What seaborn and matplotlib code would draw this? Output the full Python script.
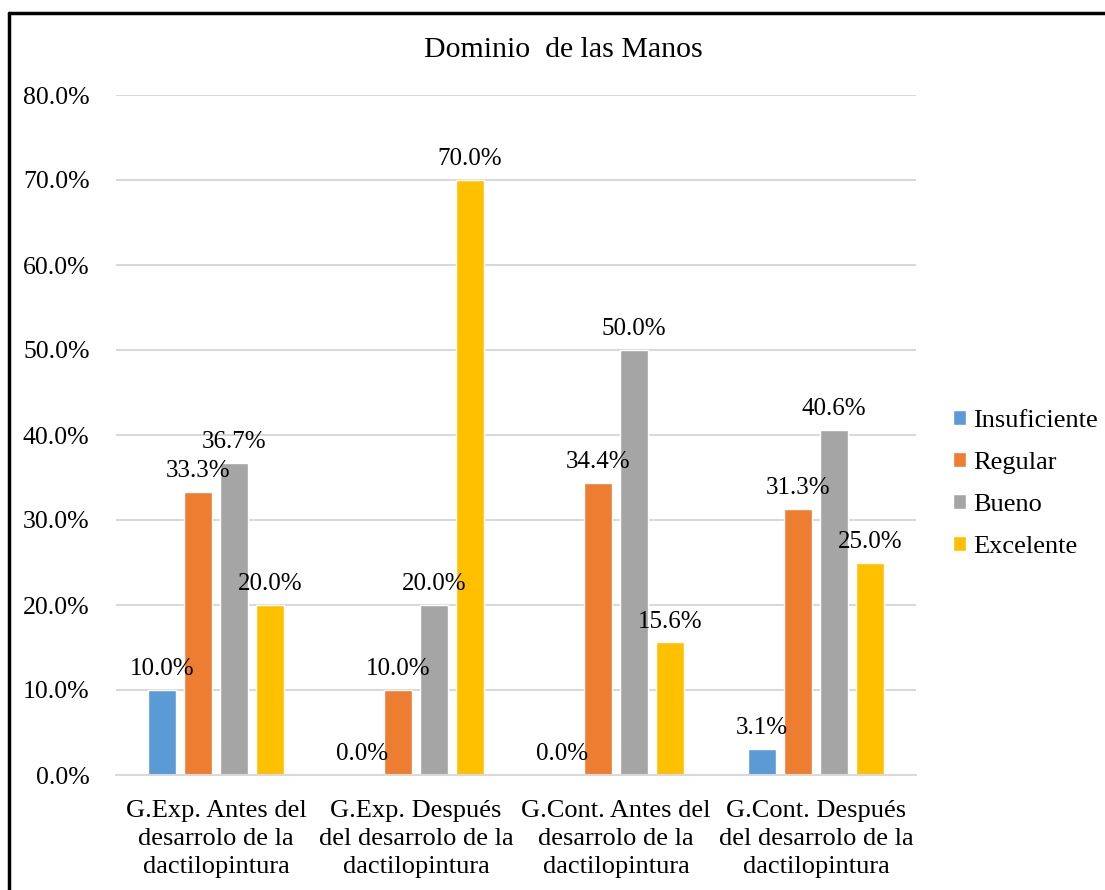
import pandas as pd
import numpy as np
import matplotlib
matplotlib.use("Agg")
import matplotlib.pyplot as plt
import seaborn as sns
from matplotlib.lines import Line2D

GROUPS = ["G.Exp. Antes del\ndesarrolo de la\ndactilopintura",
          "G.Exp. Después\ndel desarrolo de la\ndactilopintura",
          "G.Cont. Antes del\ndesarrolo de la\ndactilopintura",
          "G.Cont. Después\ndel desarrolo de la\ndactilopintura"]
LEVELS = ["Insuficiente", "Regular", "Bueno", "Excelente"]
insuficiente = [0.100, 0.000, 0.000, 0.031]
regular = [0.333, 0.100, 0.344, 0.313]
bueno = [0.367, 0.200, 0.500, 0.406]
excelente = [0.200, 0.700, 0.156, 0.250]
Y_TICKS = [0.0, 0.1, 0.2, 0.3, 0.4, 0.5, 0.6, 0.7, 0.8]
PALETTE = {"Insuficiente": "#5B9BD5", "Regular": "#ED7D31",
           "Bueno": "#A5A5A5", "Excelente": "#FFC000"}

df = pd.DataFrame({
    "grupo": GROUPS * 4,
    "nivel": np.repeat(LEVELS, 4),
    "valor": insuficiente + regular + bueno + excelente,
})

sns.set_style("white")
plt.rcParams["font.family"] = ["Liberation Serif", "DejaVu Serif"]
plt.rcParams["text.color"] = "black"
plt.rcParams["xtick.color"] = "black"
plt.rcParams["ytick.color"] = "black"

fig = plt.figure(figsize=(11.05, 8.9), dpi=100)
ax = fig.add_axes([116 / 1105, 1 - 775 / 890, 800 / 1105, 680 / 890])

sns.barplot(data=df, x="grupo", y="valor", hue="nivel", hue_order=LEVELS,
            order=GROUPS, palette=PALETTE, width=0.72, gap=0.22,
            saturation=1, ax=ax, legend=True)

for cont in ax.containers:
    ax.bar_label(cont, labels=[f"{v * 100:.1f}%" for v in cont.datavalues],
                 padding=7, fontsize=18, color="black")

ax.set_ylim(0, 0.8)
ax.set_xlim(-0.5, 3.5)
ax.set_yticks(Y_TICKS)
ax.set_yticklabels([f"{t * 100:.1f}%" for t in Y_TICKS])
ax.yaxis.grid(True, color="#D9D9D9", linewidth=1.5)
ax.set_axisbelow(True)
for s in ["top", "right", "left"]:
    ax.spines[s].set_visible(False)
ax.spines["bottom"].set_color("#D9D9D9")
ax.spines["bottom"].set_linewidth(1.5)
ax.tick_params(axis="y", length=0, pad=19, labelsize=18.5, labelcolor="black")
ax.tick_params(axis="x", length=0, pad=18, labelsize=19, labelcolor="black")
for lbl in ax.get_xticklabels():
    lbl.set_linespacing(1.36)
ax.set_xlabel("")
ax.set_ylabel("")

handles, labels = ax.get_legend_handles_labels()
ax.legend_.remove()
leg = fig.legend(handles, labels, loc="center left",
                 bbox_to_anchor=(953 / 1105, 1 - 484 / 890), frameon=False,
                 fontsize=19, handlelength=0.5, handleheight=0.5,
                 handletextpad=0.27, labelspacing=0.75, borderpad=0,
                 borderaxespad=0)
for t in leg.get_texts():
    t.set_color("black")

fig.text(563 / 1105, 1 - 50 / 890, "Dominio  de las Manos", fontsize=21.5,
         ha="center", va="center", color="black")

# marco negro del gráfico
fig.add_artist(Line2D([9 / 1105, 9 / 1105], [0, 1 - 13 / 890], color="black",
                      linewidth=2.5, transform=fig.transFigure))
fig.add_artist(Line2D([9 / 1105, 1], [1 - 13 / 890, 1 - 13 / 890], color="black",
                      linewidth=2.5, transform=fig.transFigure))

fig.savefig("out.png", dpi=100, facecolor="white")
